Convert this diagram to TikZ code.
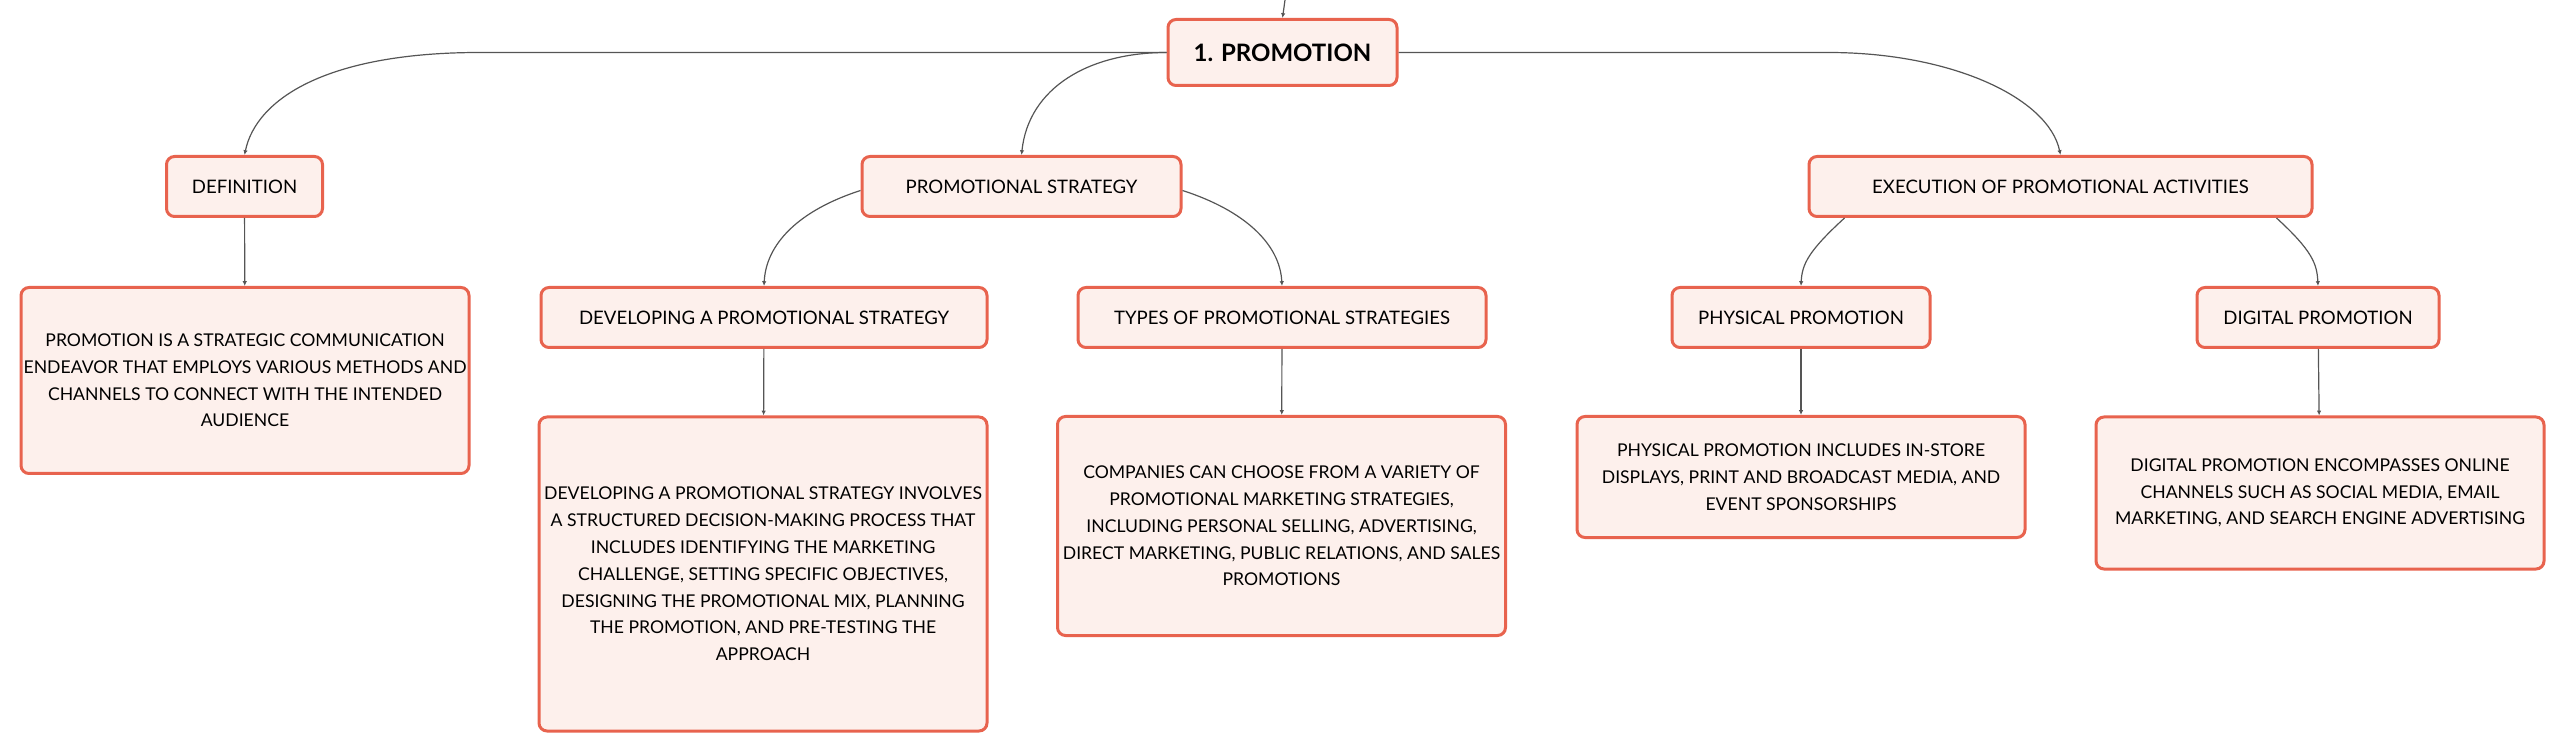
\documentclass[tikz,border=0pt]{standalone}
\usepackage{fontspec}
\setmainfont{Lato}
\usetikzlibrary{calc, arrows.meta}
\definecolor{boxline}{HTML}{E8634E}
\definecolor{boxfill}{HTML}{FDF0EC}
\definecolor{linkgray}{HTML}{555555}
\tikzset{
  topicbox/.style={draw=boxline, fill=boxfill, line width=1.5pt, rounded corners=4pt,
    align=center, inner sep=0pt, minimum height=30pt, font=\fontsize{9.3}{12}\selectfont},
  notebox/.style={draw=boxline, fill=boxfill, line width=1.5pt, rounded corners=4pt,
    align=center, inner sep=0pt, minimum width=224pt, font=\fontsize{8.8}{13.4}\selectfont},
  branch/.style={draw=linkgray, line width=0.6pt, -{Latex[length=2.4pt,width=2.2pt]}}
}
\begin{document}
\begin{tikzpicture}[x=0.5pt, y=0.5pt]
		\useasboundingbox (0,0) rectangle (2565,-753);
		% central topic
		\node[topicbox, minimum width=114.5pt, minimum height=33pt, font=\fontsize{12}{14}\selectfont\bfseries] (root) at (1282.5,-52.5) {1. PROMOTION};
		\coordinate (parent) at (1285,0);
		\draw[branch] (parent) -- (root.north);
		% definition
		\node[topicbox, minimum width=78pt] (def) at (244.5,-186.5) {DEFINITION};
		\node[notebox, minimum height=93pt] (deftext) at (245,-380.5) {PROMOTION IS A STRATEGIC COMMUNICATION\\ENDEAVOR THAT EMPLOYS VARIOUS METHODS AND\\CHANNELS TO CONNECT WITH THE INTENDED\\AUDIENCE};
		% promotional strategy
		\node[topicbox, minimum width=159.5pt] (strat) at (1021.5,-186.5) {PROMOTIONAL STRATEGY};
		\node[topicbox, minimum width=223pt] (dev) at (764,-317.5) {DEVELOPING A PROMOTIONAL STRATEGY};
		\node[notebox, minimum height=157pt] (devtext) at (763,-574) {DEVELOPING A PROMOTIONAL STRATEGY INVOLVES\\A STRUCTURED DECISION-MAKING PROCESS THAT\\INCLUDES IDENTIFYING THE MARKETING\\CHALLENGE, SETTING SPECIFIC OBJECTIVES,\\DESIGNING THE PROMOTIONAL MIX, PLANNING\\THE PROMOTION, AND PRE-TESTING THE\\APPROACH};
		\node[topicbox, minimum width=204pt] (types) at (1282,-317.5) {TYPES OF PROMOTIONAL STRATEGIES};
		\node[notebox, minimum height=109.5pt] (typestext) at (1281.5,-526) {COMPANIES CAN CHOOSE FROM A VARIETY OF\\PROMOTIONAL MARKETING STRATEGIES,\\INCLUDING PERSONAL SELLING, ADVERTISING,\\DIRECT MARKETING, PUBLIC RELATIONS, AND SALES\\PROMOTIONS};
		% execution
		\node[topicbox, minimum width=251.5pt] (exec) at (2060.5,-186.5) {EXECUTION OF PROMOTIONAL ACTIVITIES};
		\node[topicbox, minimum width=129pt] (phys) at (1801,-317.5) {PHYSICAL PROMOTION};
		\node[notebox, minimum height=60.5pt] (phystext) at (1801,-477) {PHYSICAL PROMOTION INCLUDES IN-STORE\\DISPLAYS, PRINT AND BROADCAST MEDIA, AND\\EVENT SPONSORSHIPS};
		\node[topicbox, minimum width=121pt] (dig) at (2318,-317.5) {DIGITAL PROMOTION};
		\node[notebox, minimum height=76pt] (digtext) at (2320,-493) {DIGITAL PROMOTION ENCOMPASSES ONLINE\\CHANNELS SUCH AS SOCIAL MEDIA, EMAIL\\MARKETING, AND SEARCH ENGINE ADVERTISING};
		% connectors from the central topic
		\draw[branch] (root.west) -- ++(-687,0) .. controls +(-151,0) and +(12,57) .. (def.north);
		\draw[branch] (root.west) .. controls +(-78,0) and +(7,67) .. (strat.north);
		\draw[branch] (root.east) -- ++(430,0) .. controls +(123,0) and +(-12,57) .. (exec.north);
		% connectors inside the branches
		\draw[branch] ([yshift=-2pt]strat.west) .. controls +(-62,-20) and +(2,42) .. (dev.north);
		\draw[branch] ([yshift=-2pt]strat.east) .. controls +(62,-20) and +(-2,42) .. (types.north);
		\draw[branch] ($(exec.south west)+(37,0)$) .. controls +(-36,-33) and +(1,22) .. (phys.north);
		\draw[branch] ($(exec.south east)+(-37,0)$) .. controls +(36,-33) and +(-1,22) .. (dig.north);
		\draw[branch] (def) -- (deftext);
		\draw[branch] (dev) -- (devtext);
		\draw[branch] (types) -- (typestext);
		\draw[branch] (phys) -- (phystext);
		\draw[branch] (dig) -- (digtext);
\end{tikzpicture}
\end{document}
